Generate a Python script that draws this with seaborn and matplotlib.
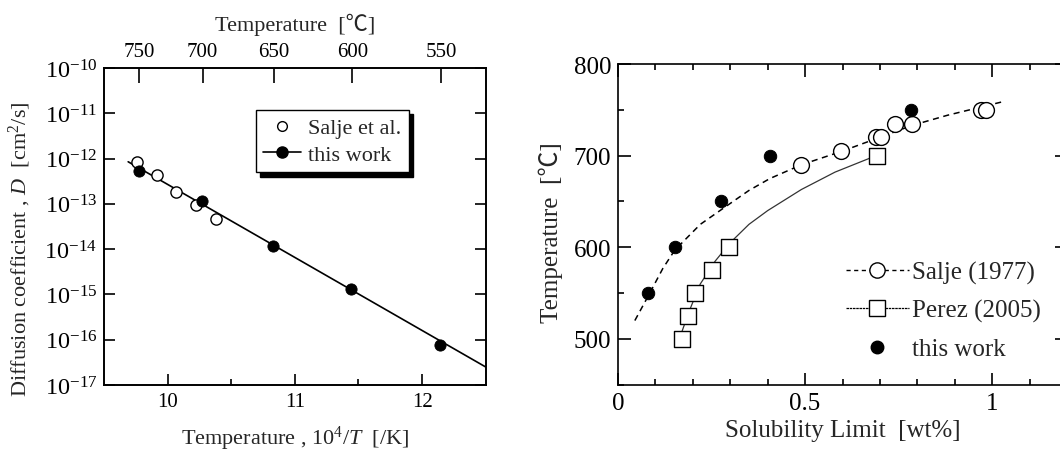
import numpy as np
import pandas as pd
import matplotlib
matplotlib.use("Agg")
import matplotlib.pyplot as plt
import seaborn as sns
from matplotlib.lines import Line2D
from matplotlib.ticker import FixedLocator, NullLocator, MultipleLocator, FuncFormatter

# ---------------- Left panel data ----------------
salje_invT = [9.762, 9.92, 10.065, 10.22, 10.38]
salje_D = [8.4e-13, 4.3e-13, 1.8e-13, 9.3e-14, 4.7e-14]
work_invT = [9.777, 10.27, 10.83, 11.443, 12.14]
work_D = [5.2e-13, 1.14e-13, 1.2e-14, 1.3e-15, 7.6e-17]
fit_invT = [9.69, 12.5]
fit_D = [8.5e-13, 2.5e-17]
top_celsius = [750, 700, 650, 600, 550]
y_exponents = [-10, -11, -12, -13, -14, -15, -16, -17]
x_major = [10, 11, 12]
x_minor = [10.5, 11.5]

# ---------------- Right panel data ----------------
salje_wt = [0.49, 0.597, 0.69, 0.703, 0.74, 0.786, 0.971, 0.983]
salje_T = [690, 705, 720, 720, 735, 735, 750, 750]
perez_wt = [0.172, 0.188, 0.206, 0.252, 0.297, 0.691]
perez_T = [500, 525, 550, 575, 600, 700]
work_wt = [0.081, 0.152, 0.274, 0.406, 0.782]
work_T = [550, 600, 650, 700, 750]
salje_curve_wt = [0.045, 0.081, 0.12, 0.152, 0.22, 0.29, 0.35, 0.406, 0.49, 0.6, 0.7, 0.786, 0.88, 0.97, 1.03]
salje_curve_T = [520, 547, 577, 597, 625, 645, 662, 675, 690, 705, 720, 733, 744, 753, 759]
perez_curve_wt = [0.164, 0.19, 0.22, 0.26, 0.30, 0.35, 0.40, 0.49, 0.58, 0.69]
perez_curve_T = [500, 530, 560, 585, 605, 625, 640, 663, 682, 700]

sns.set_style("ticks")
plt.rcParams['font.family'] = ['Liberation Serif', 'Noto Sans CJK JP', 'DejaVu Serif']
plt.rcParams['mathtext.fontset'] = 'custom'
plt.rcParams['mathtext.rm'] = 'Liberation Serif'
plt.rcParams['mathtext.it'] = 'Liberation Serif:italic'
plt.rcParams['axes.linewidth'] = 1.2
plt.rcParams['axes.edgecolor'] = 'black'
plt.rcParams['xtick.direction'] = 'in'
plt.rcParams['ytick.direction'] = 'in'

fig = plt.figure(figsize=(10.6, 4.52), dpi=100)

# ================= Left panel =================
ax1 = fig.add_axes([104/1060, 1-386/452, 381.7/1060, 317/452])
fit_df = pd.DataFrame({'x': fit_invT, 'D': fit_D})
sns.lineplot(data=fit_df, x='x', y='D', ax=ax1, color='black', lw=1.2, sort=False, estimator=None)
sdf = pd.DataFrame({'x': salje_invT, 'D': salje_D})
sns.scatterplot(data=sdf, x='x', y='D', ax=ax1, s=65, facecolor='white', edgecolor='black', linewidth=1.0, zorder=3)
wdf = pd.DataFrame({'x': work_invT, 'D': work_D})
sns.scatterplot(data=wdf, x='x', y='D', ax=ax1, s=65, color='black', edgecolor='black', zorder=4)
ax1.set_yscale('log')
ax1.set_xlim(9.5, 12.5)
ax1.set_ylim(1e-17, 1e-10)
ax1.yaxis.set_major_locator(FixedLocator([10.0**e for e in y_exponents]))
ax1.yaxis.set_minor_locator(NullLocator())
ax1.yaxis.set_major_formatter(FuncFormatter(lambda v, p: r'$\mathrm{10^{%d}}$' % int(round(np.log10(v)))))
ax1.xaxis.set_major_locator(FixedLocator(x_major))
ax1.xaxis.set_minor_locator(FixedLocator(x_minor))
ax1.tick_params(which='both', direction='in', top=False, right=True, width=1.2, colors='black')
ax1.tick_params(axis='x', labelsize=15)
ax1.tick_params(axis='y', labelsize=17.5)
ax1.tick_params(which='major', length=8, pad=5)
ax1.tick_params(which='minor', length=4)
ax1.set_xlabel(r'Temperature , 10$^4$/$T$  [/K]', fontsize=16, labelpad=9)
ax1.set_ylabel(r'Diffusion coefficient , $D$  [cm$^2$/s]', fontsize=16)
ax1.yaxis.set_label_coords(-0.186, 0.43)

# top axis: Celsius scale placed at 10^4/T positions
top = ax1.twiny()
top.set_xlim(ax1.get_xlim())
top_pos = [1e4 / (c + 273.15) for c in top_celsius]
top.xaxis.set_major_locator(FixedLocator(top_pos))
top.xaxis.set_major_formatter(FuncFormatter(lambda v, p: '%d' % round(1e4 / v - 273.15)))
top.xaxis.set_minor_locator(NullLocator())
top.tick_params(axis='x', which='both', direction='in', top=True, bottom=False,
                length=11, width=1.2, labelsize=15, pad=5, colors='black')
top.set_xlabel('Temperature  [℃]', fontsize=16, labelpad=9)

h1 = [Line2D([], [], ls='none', marker='o', ms=7, mfc='white', mec='black', mew=1.0),
      Line2D([], [], color='black', lw=1.2, marker='o', ms=8, mfc='black', mec='black')]
leg1 = top.legend(h1, ['Salje et al.', 'this work'], loc='upper left',
                  bbox_to_anchor=(0.397, 0.867), borderaxespad=0, fontsize=16,
                  frameon=True, fancybox=False, edgecolor='black', framealpha=1,
                  shadow={'color': 'black', 'alpha': 1.0, 'ox': 3, 'oy': -3},
                  handlelength=1.7, handletextpad=0.3, labelspacing=0.25, borderpad=0.35)
leg1.get_frame().set_linewidth(1.0)

# ================= Right panel =================
ax2 = fig.add_axes([618/1060, 1-385.7/452, 449/1060, 320.7/452])
scd = pd.DataFrame({'wt': salje_curve_wt, 'T': salje_curve_T})
sns.lineplot(data=scd, x='wt', y='T', ax=ax2, color='black', lw=1.1, sort=False, estimator=None)
ax2.lines[-1].set_dashes((4, 3))
pcd = pd.DataFrame({'wt': perez_curve_wt, 'T': perez_curve_T})
sns.lineplot(data=pcd, x='wt', y='T', ax=ax2, color='#333333', lw=0.9, sort=False, estimator=None)
sd2 = pd.DataFrame({'wt': salje_wt, 'T': salje_T})
sns.scatterplot(data=sd2, x='wt', y='T', ax=ax2, marker='o', s=130, facecolor='white',
                edgecolor='black', linewidth=1.0, zorder=3)
pd2 = pd.DataFrame({'wt': perez_wt, 'T': perez_T})
sns.scatterplot(data=pd2, x='wt', y='T', ax=ax2, marker='s', s=125, facecolor='white',
                edgecolor='black', linewidth=1.0, zorder=3)
wd2 = pd.DataFrame({'wt': work_wt, 'T': work_T})
sns.scatterplot(data=wd2, x='wt', y='T', ax=ax2, marker='o', s=80, color='black',
                edgecolor='black', zorder=4)
ax2.set_xlim(0, 1.2)
ax2.set_ylim(450, 800)
ax2.xaxis.set_major_locator(FixedLocator([0, 0.5, 1]))
ax2.xaxis.set_major_formatter(FuncFormatter(lambda v, p: '%g' % v))
ax2.xaxis.set_minor_locator(MultipleLocator(0.1))
ax2.yaxis.set_major_locator(MultipleLocator(100))
ax2.yaxis.set_minor_locator(MultipleLocator(50))
ax2.tick_params(which='both', direction='in', top=True, right=True, labelsize=18, width=1.2, colors='black')
ax2.tick_params(which='major', length=9, pad=5)
ax2.tick_params(which='minor', length=4)
ax2.set_xlabel('Solubility Limit  [wt%]', fontsize=18, labelpad=4)
ax2.set_ylabel('Temperature  [℃]', fontsize=18)
ax2.yaxis.set_label_coords(-0.1225, 0.478)

h2 = [Line2D([], [], color='black', lw=1.0, dashes=(3, 2.5), marker='o', ms=11, mfc='white', mec='black'),
      Line2D([], [], color='black', lw=0.9, dashes=(2, 0.6), marker='s', ms=11, mfc='white', mec='black'),
      Line2D([], [], ls='none', marker='o', ms=9, mfc='black', mec='black')]
leg2 = ax2.legend(h2, ['Salje (1977)', 'Perez (2005)', 'this work'], loc='center left',
                  bbox_to_anchor=(0.508, 0.231), borderaxespad=0, borderpad=0, frameon=False,
                  fontsize=18, handlelength=2.5, handletextpad=0.15, labelspacing=0.62)

fig.savefig('out.png', dpi=100)
